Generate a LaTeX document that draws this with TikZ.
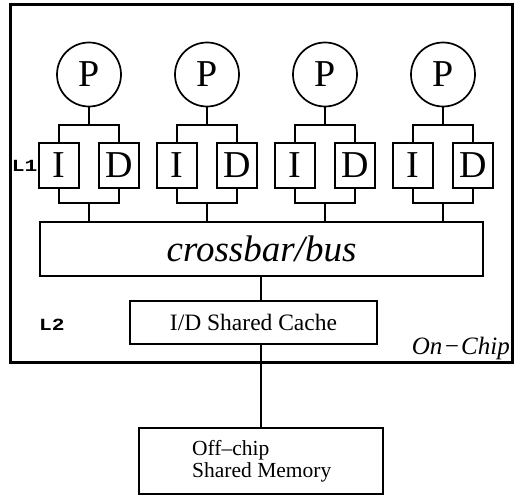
\documentclass[tikz,border=0pt]{standalone}
\usepackage{fontspec}
\setmainfont{Liberation Serif}
\newfontfamily\lblfont{Liberation Mono}
\begin{document}
\begin{tikzpicture}[x=1pt,y=-1pt,
  wire/.style={line width=1.7pt},
  procnode/.style={circle,draw,line width=1.7pt,minimum size=64pt,inner sep=0pt,font=\fontsize{38}{38}\selectfont},
  cachebox/.style={rectangle,draw,line width=1.7pt,minimum width=40pt,minimum height=45pt,inner sep=0pt,font=\fontsize{38}{38}\selectfont},
  plainbox/.style={rectangle,draw,line width=1.7pt,inner sep=0pt},
  lbl/.style={font=\lblfont\bfseries\fontsize{17}{17}\selectfont,inner sep=0pt}
]
\useasboundingbox (0,0) rectangle (517,495);
\node[draw,line width=3pt,minimum width=502pt,minimum height=357pt,inner sep=0pt] (chip) at (261,183.5) {};
\foreach \i/\cx in {1/89,2/207,3/325,4/443}{
  \node[procnode] (p\i) at (\cx,74.5) {P};
  \node[cachebox] (i\i) at (\cx-30,165.5) {I};
  \node[cachebox] (d\i) at (\cx+30,165.5) {D};
  \coordinate (t\i) at (\cx,125);
  \coordinate (b\i) at (\cx,203);
  \draw[wire] (p\i.south) -- (t\i);
  \draw[wire] (i\i.north) |- (t\i) -| (d\i.north);
  \draw[wire] (i\i.south) |- (b\i) -| (d\i.south);
}
\node[plainbox,minimum width=443pt,minimum height=54pt,font=\itshape\fontsize{37}{37}\selectfont] (bus) at (261.5,249) {crossbar/bus};
\foreach \i in {1,2,3,4}{ \draw[wire] (b\i) -- (b\i |- bus.north); }
\node[plainbox,minimum width=247pt,minimum height=43pt,font=\fontsize{23.5}{23.5}\selectfont] (l2) at (253.5,322.5) {I/D Shared Cache};
\node[plainbox,minimum width=244pt,minimum height=66pt] (mem) at (261,461) {};
\node[anchor=base west,inner sep=0pt,align=left,font=\fontsize{21.5}{22}\selectfont] (memtxt) at (192,477) {Off--chip\\Shared Memory};
\draw[wire] (bus.south -| mem.north) -- (mem.north |- l2.north);
\draw[wire] (l2.south -| mem.north) -- (mem.north);
\node[lbl,anchor=east] (l1lbl) at ([xshift=-0.5pt]i1.west) {\scalebox{1.25}[1]{L1}};
\node[lbl] (l2lbl) at (52,325) {\scalebox{1.25}[1]{L2}};
\node[anchor=base east,inner sep=0pt,font=\itshape\fontsize{25}{25}\selectfont] (onchip) at (510,354) {On\kern1pt−\kern1pt Chip};
\end{tikzpicture}
\end{document}
